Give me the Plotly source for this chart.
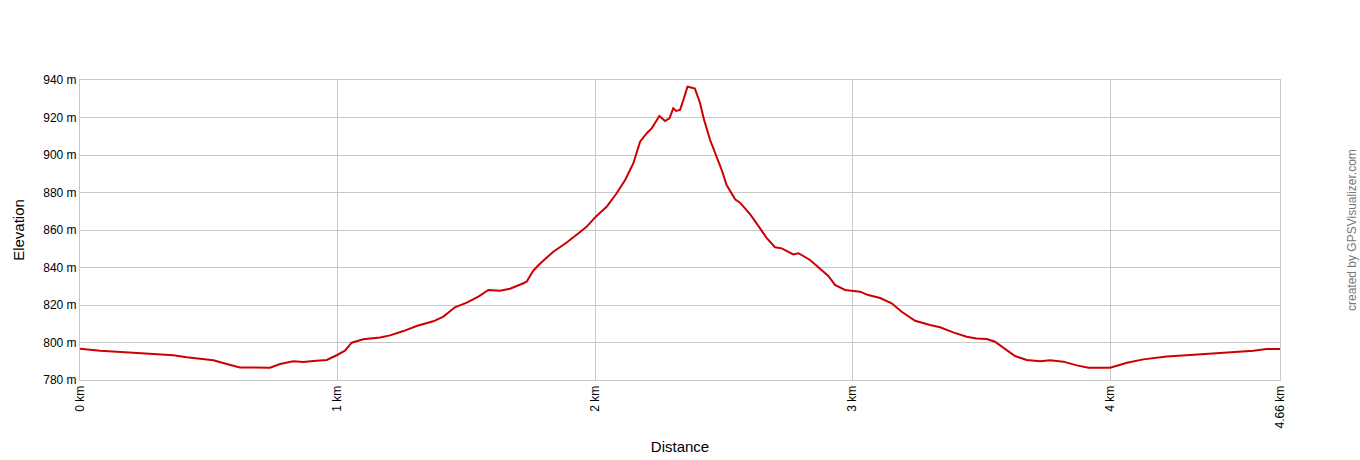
import plotly.graph_objects as go

distance_km = [0.000, 0.078, 0.207, 0.272, 0.362, 0.414, 0.466, 0.518, 0.570, 0.621,
               0.738, 0.777, 0.828, 0.867, 0.906, 0.958, 0.997, 1.029, 1.055, 1.100,
               1.165, 1.204, 1.256, 1.307, 1.372, 1.411, 1.456, 1.502, 1.547, 1.586,
               1.631, 1.670, 1.722, 1.735, 1.760, 1.786, 1.838, 1.890, 1.942, 1.968,
               2.003, 2.045, 2.084, 2.117, 2.149, 2.175, 2.201, 2.220, 2.250, 2.272,
               2.289, 2.304, 2.315, 2.330, 2.343, 2.359, 2.369, 2.388, 2.408, 2.423,
               2.447, 2.473, 2.492, 2.511, 2.544, 2.563, 2.602, 2.641, 2.667, 2.699,
               2.725, 2.770, 2.790, 2.835, 2.874, 2.906, 2.932, 2.971, 3.029, 3.061,
               3.107, 3.152, 3.191, 3.243, 3.301, 3.340, 3.391, 3.443, 3.482, 3.521,
               3.553, 3.586, 3.631, 3.676, 3.728, 3.767, 3.819, 3.871, 3.916, 4.000,
               4.039, 4.066, 4.129, 4.220, 4.311, 4.388, 4.479, 4.557, 4.608, 4.660]
elevation_m = [796.7, 795.6, 794.6, 793.9, 793.2, 792.1, 791.2, 790.5, 788.5, 786.7,
               786.6, 788.5, 790.0, 789.6, 790.1, 790.7, 793.2, 795.6, 799.9, 801.7,
               802.7, 803.8, 806.1, 808.8, 811.3, 813.8, 818.8, 821.3, 824.5, 828.0,
               827.6, 828.7, 831.6, 832.5, 838.3, 842.0, 848.4, 853.3, 858.9, 861.8,
               867.1, 872.4, 879.6, 886.7, 895.6, 907.1, 911.6, 914.2, 920.8, 918.1,
               919.6, 924.9, 923.5, 924.0, 929.3, 936.4, 936.1, 935.4, 927.6, 919.0,
               908.0, 899.1, 892.0, 884.0, 876.4, 874.6, 868.5, 860.9, 855.6, 850.8,
               850.2, 847.0, 847.6, 844.0, 839.6, 835.5, 830.7, 828.0, 827.1, 825.3,
               823.7, 820.9, 816.4, 811.6, 809.3, 808.1, 805.4, 803.1, 802.2, 801.9,
               800.4, 797.2, 792.8, 790.7, 790.0, 790.5, 789.8, 787.8, 786.6, 786.5,
               788.0, 789.2, 791.0, 792.5, 793.3, 793.9, 795.0, 795.6, 796.5, 796.5]

x_tick_vals = [0, 1, 2, 3, 4, 4.66]
x_tick_text = ["0 km", "1 km", "2 km", "3 km", "4 km", "4.66 km"]
y_tick_vals = [780, 800, 820, 840, 860, 880, 900, 920, 940]
y_tick_text = [f"{v} m" for v in y_tick_vals]

fig = go.Figure()
fig.add_trace(go.Scatter(
    x=distance_km, y=elevation_m, mode="lines",
    line=dict(color="#cc0000", width=2),
    hoverinfo="x+y", showlegend=False,
))

font_family = "Liberation Sans, Arial, sans-serif"
fig.update_layout(
    width=1360, height=460,
    margin=dict(l=80, r=80, t=80, b=80, autoexpand=False),
    paper_bgcolor="white", plot_bgcolor="white",
    font=dict(family=font_family, size=12, color="#000000"),
    xaxis=dict(
        range=[0, 4.66], tickvals=x_tick_vals, ticktext=x_tick_text,
        tickangle=-90, showgrid=True, gridcolor="#c8c8c8", gridwidth=1,
        showline=True, linecolor="#c8c8c8", linewidth=1, mirror=True,
        zeroline=False, ticks="", automargin=False,
        tickfont=dict(size=12, family=font_family),
        title=dict(text="Distance", font=dict(size=15, family=font_family), standoff=14),
        fixedrange=True,
    ),
    yaxis=dict(
        range=[780, 940], tickvals=y_tick_vals, ticktext=y_tick_text,
        showgrid=True, gridcolor="#c8c8c8", gridwidth=1,
        showline=True, linecolor="#c8c8c8", linewidth=1, mirror=True,
        zeroline=False, ticks="", automargin=False,
        tickfont=dict(size=12, family=font_family),
        title=dict(text="Elevation", font=dict(size=15, family=font_family), standoff=14),
        fixedrange=True,
    ),
    annotations=[dict(
        text="created by GPSVisualizer.com", xref="paper", yref="paper",
        x=1, y=0.5, xshift=72, xanchor="center", yanchor="middle",
        textangle=-90, showarrow=False,
        font=dict(size=12, color="#777777", family=font_family),
    )],
)

fig.write_html(
    "out.html",
    config={"displayModeBar": False},
    post_script="document.body.style.margin='0';document.body.style.overflow='hidden';",
)
